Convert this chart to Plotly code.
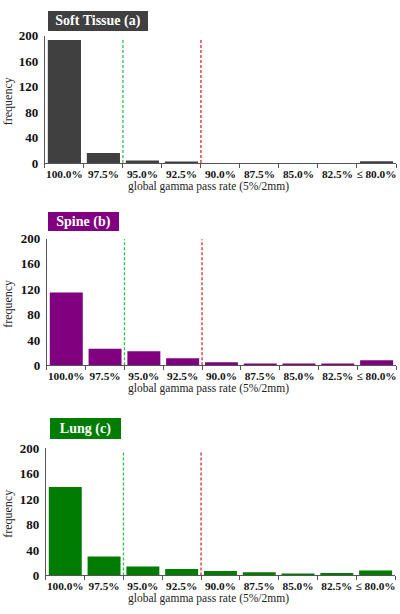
import plotly.graph_objects as go

categories = ["100.0%", "97.5%", "95.0%", "92.5%", "90.0%", "87.5%", "85.0%", "82.5%", "≤ 80.0%"]
soft_tissue = [193, 16, 4, 1, 0, 0, 0, 0, 3]
spine = [115, 26, 22, 11, 5, 3, 3, 2, 8]
lung = [139, 30, 14, 10, 7, 5, 3, 4, 8]
y_ticks = [0, 40, 80, 120, 160, 200]
x_title = "global gamma pass rate (5%/2mm)"
y_title = "frequency"
panel_titles = ["Soft Tissue (a)", "Spine (b)", "Lung (c)"]
panel_colors = ["#404040", "#800080", "#007d00"]
# threshold markers: between 97.5% and 95.0% (green), between 92.5% and 90.0% (red)
threshold_after = ["97.5%", "92.5%"]
threshold_colors = ["#2fbf4f", "#d42a2a"]
threshold_tops = [[194, 194], [199, 199], [196, 196]]

# layout (pixel geometry of each panel: left, right, top, bottom)
W, H = 400, 614
geom = [(45, 397, 29.3, 160.0), (47, 397, 237.3, 367.3), (46, 396, 452.3, 582.7)]
title_boxes = [(48, 148, 4, 24), (48, 119, 210, 229), (50, 121, 421.7, 442.7)]
serif = "Liberation Serif, Times New Roman, serif"

fig = go.Figure()
series = [soft_tissue, spine, lung]
annotations = []
shapes = []
for i, (vals, col) in enumerate(zip(series, panel_colors)):
    n = "" if i == 0 else str(i + 1)
    xa, ya = "x" + n, "y" + n
    fig.add_trace(go.Bar(x=categories, y=vals, marker=dict(color=col, line=dict(width=0)),
                         xaxis=xa, yaxis=ya, showlegend=False))
    l, r, t, b = geom[i]
    fig.update_layout(**{
        "xaxis" + n: dict(domain=[l / W, r / W], anchor=ya, type="category",
                          categoryorder="array", categoryarray=categories,
                          showline=True, linecolor="#555555", linewidth=1,
                          ticks="outside", tickson="boundaries", ticklen=4, tickcolor="#555555",
                          tickangle=0,
                          tickfont=dict(family=serif, size=11.3, color="#111111", weight="bold"),
                          showgrid=False, zeroline=False, fixedrange=True),
        "yaxis" + n: dict(domain=[1 - b / H, 1 - t / H], anchor=xa, range=[0, 200],
                          tickvals=y_ticks, showline=True, linecolor="#555555", linewidth=1,
                          ticks="", ticklabelstandoff=3,
                          tickfont=dict(family=serif, size=13, color="#111111", weight="bold"),
                          showgrid=False, zeroline=False, fixedrange=True),
    })
    # thresholds
    for k, (cat, tc) in enumerate(zip(threshold_after, threshold_colors)):
        xpos = categories.index(cat) + 0.5
        shapes.append(dict(type="line", xref=xa, yref=ya, x0=xpos, x1=xpos, y0=0,
                           y1=threshold_tops[i][k], line=dict(color=tc, width=1.3, dash="3px,2px")))
    # panel title box
    bl, br, bt, bb = title_boxes[i]
    annotations.append(dict(xref="paper", yref="paper", x=bl / W, y=1 - bt / H,
                            xanchor="left", yanchor="top", showarrow=False,
                            text="<b>" + panel_titles[i] + "</b>", bgcolor=col,
                            width=br - bl, height=bb - bt, borderpad=0, borderwidth=0,
                            font=dict(family=serif, size=14, color="white")))
    # axis titles
    annotations.append(dict(xref="paper", yref="paper", x=209 / W, y=1 - (b + 23.5) / H,
                            xanchor="center", yanchor="middle", showarrow=False, text=x_title,
                            font=dict(family=serif, size=11.5, color="#222222")))
    annotations.append(dict(xref="paper", yref="paper", x=8 / W, y=1 - ((t + b) / 2 + 2) / H,
                            xanchor="center", yanchor="middle", showarrow=False, text=y_title,
                            textangle=-90, font=dict(family=serif, size=12, color="#222222")))

fig.update_layout(width=W, height=H, margin=dict(l=0, r=0, t=0, b=0),
                  paper_bgcolor="white", plot_bgcolor="white", bargap=0.15,
                  annotations=annotations, shapes=shapes)
fig.write_html("out.html")
